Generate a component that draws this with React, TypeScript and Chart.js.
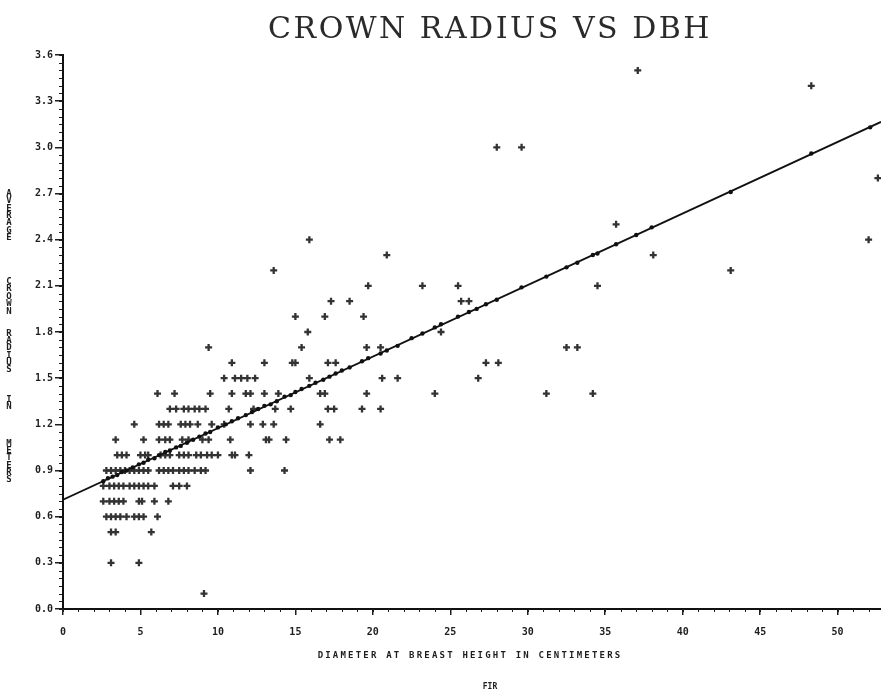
import React, { useEffect, useRef } from "react";
import { Chart, registerables } from "chart.js";

Chart.register(...registerables);

const TITLE = "CROWN RADIUS VS DBH";
const X_TITLE = "DIAMETER AT BREAST HEIGHT IN CENTIMETERS";
const Y_TITLE = "AVERAGE     CROWN  RADIUS   IN    METERS";
const SPECIES = "FIR";

const xTickValues = [0, 5, 10, 15, 20, 25, 30, 35, 40, 45, 50];
const yTickValues = [0, 0.3, 0.6, 0.9, 1.2, 1.5, 1.8, 2.1, 2.4, 2.7, 3.0, 3.3, 3.6];

// observed crown radius rows (m) and the DBH values (cm) plotted on each row
const crownRows = [0.1, 0.3, 0.5, 0.6, 0.7, 0.8, 0.9, 1.0, 1.1, 1.2, 1.3, 1.4, 1.5, 1.6, 1.7, 1.8, 1.9, 2.0, 2.1, 2.2, 2.3, 2.4, 2.5, 2.8, 3.0, 3.4, 3.5];
const dbhByRow = [
  [9.1],
  [3.1, 4.9],
  [3.1, 3.4, 5.7],
  [2.8, 3.1, 3.4, 3.7, 4.1, 4.6, 4.9, 5.2, 6.1],
  [2.6, 3.0, 3.3, 3.6, 3.9, 4.9, 5.1, 5.9, 6.8],
  [2.6, 3.0, 3.3, 3.6, 3.9, 4.3, 4.6, 4.9, 5.2, 5.5, 5.9, 7.1, 7.5, 8.0],
  [2.8, 3.1, 3.4, 3.7, 4.0, 4.3, 4.6, 4.9, 5.2, 5.5, 6.2, 6.5, 6.8, 7.1, 7.5, 7.8, 8.1, 8.5, 8.9, 9.2, 12.1, 14.3],
  [3.5, 3.8, 4.1, 5.0, 5.3, 5.5, 6.3, 6.6, 6.9, 7.5, 7.8, 8.1, 8.6, 8.9, 9.3, 9.6, 10.0, 10.9, 11.1, 12.0],
  [3.4, 5.2, 6.2, 6.6, 6.9, 7.7, 8.1, 9.0, 9.4, 10.8, 13.1, 13.3, 14.4, 17.2, 17.9],
  [4.6, 6.2, 6.5, 6.8, 7.6, 7.9, 8.2, 8.7, 9.6, 10.4, 12.1, 12.9, 13.6, 16.6],
  [6.9, 7.3, 7.8, 8.1, 8.5, 8.8, 9.2, 10.7, 12.3, 13.7, 14.7, 17.1, 17.5, 19.3, 20.5],
  [6.1, 7.2, 9.5, 10.9, 11.8, 12.1, 13.0, 13.9, 16.6, 16.9, 19.6, 24.0, 31.2, 34.2],
  [10.4, 11.1, 11.5, 11.9, 12.4, 15.9, 20.6, 21.6, 26.8],
  [10.9, 13.0, 14.8, 15.0, 17.1, 17.6, 27.3, 28.1],
  [9.4, 15.4, 19.6, 20.5, 32.5, 33.2],
  [15.8, 24.4],
  [15.0, 16.9, 19.4],
  [17.3, 18.5, 25.7, 26.2],
  [19.7, 23.2, 25.5, 34.5],
  [13.6, 43.1],
  [20.9, 38.1],
  [15.9, 52.0],
  [35.7],
  [52.6],
  [28.0, 29.6],
  [48.3],
  [37.1],
];

// fitted regression line (end points)
const fitDbh = [0, 52.8];
const fitCrown = [0.71, 3.165];

// predicted values marked on the fitted line
const predDbh = [2.6, 2.9, 3.2, 3.5, 3.8, 4.1, 4.5, 4.9, 5.2, 5.5, 5.9, 6.2, 6.6, 6.9, 7.3, 7.6, 8.0, 8.4, 8.8, 9.2, 9.5, 10.0, 10.5, 10.9, 11.3, 11.8, 12.2, 12.6, 13.0, 13.4, 13.8, 14.3, 14.7, 15.0, 15.4, 15.9, 16.3, 16.8, 17.2, 17.6, 18.0, 18.5, 19.3, 19.7, 20.5, 20.9, 21.6, 22.5, 23.2, 24.0, 24.4, 25.5, 26.2, 26.7, 27.3, 28.0, 29.6, 31.2, 32.5, 33.2, 34.2, 34.5, 35.7, 37.0, 38.0, 43.1, 48.3, 52.1];
const predCrown = [0.83, 0.85, 0.86, 0.87, 0.89, 0.90, 0.92, 0.94, 0.95, 0.97, 0.98, 1.00, 1.02, 1.03, 1.05, 1.06, 1.08, 1.10, 1.12, 1.14, 1.15, 1.18, 1.20, 1.22, 1.24, 1.26, 1.28, 1.30, 1.32, 1.33, 1.35, 1.38, 1.39, 1.41, 1.43, 1.45, 1.47, 1.49, 1.51, 1.53, 1.55, 1.57, 1.61, 1.63, 1.66, 1.68, 1.71, 1.76, 1.79, 1.83, 1.85, 1.90, 1.93, 1.95, 1.98, 2.01, 2.09, 2.16, 2.22, 2.25, 2.30, 2.31, 2.37, 2.43, 2.48, 2.71, 2.96, 3.13];

const X_MIN = 0;
const X_MAX = 52.8;
const Y_MIN = 0;
const Y_MAX = 3.6;
const MINOR_X_STEP = 1;
const MINOR_Y_STEP = 0.05;

const INK = "#1e1e1e";
const MONO = "'DejaVu Sans Mono', monospace";

const minorTicks = {
  id: "minorTicks",
  afterDraw(chart: any) {
    const { ctx, chartArea } = chart;
    const xs = chart.scales.x;
    const ys = chart.scales.y;
    ctx.save();
    ctx.strokeStyle = INK;
    ctx.lineWidth = 1;
    ctx.beginPath();
    const nx = Math.round((X_MAX - X_MIN) / MINOR_X_STEP);
    for (let i = 0; i <= nx; i++) {
      const px = Math.round(xs.getPixelForValue(X_MIN + i * MINOR_X_STEP)) + 0.5;
      ctx.moveTo(px, chartArea.bottom);
      ctx.lineTo(px, chartArea.bottom + 3);
    }
    const ny = Math.round((Y_MAX - Y_MIN) / MINOR_Y_STEP);
    for (let i = 0; i <= ny; i++) {
      const py = Math.round(ys.getPixelForValue(Y_MIN + i * MINOR_Y_STEP)) + 0.5;
      ctx.moveTo(chartArea.left, py);
      ctx.lineTo(chartArea.left - 4, py);
    }
    ctx.stroke();
    ctx.restore();
  },
};

export default function App() {
  const canvasRef = useRef<HTMLCanvasElement | null>(null);

  useEffect(() => {
    if (!canvasRef.current) return;
    const observed = crownRows.flatMap((y, i) => dbhByRow[i].map((x) => ({ x, y })));
    const fit = fitDbh.map((x, i) => ({ x, y: fitCrown[i] }));
    const pred = predDbh.map((x, i) => ({ x, y: predCrown[i] }));

    const chart = new Chart(canvasRef.current, {
      type: "scatter",
      data: {
        datasets: [
          {
            type: "line",
            data: fit,
            borderColor: "#111",
            borderWidth: 1.8,
            pointRadius: 0,
            fill: false,
            order: 0,
          } as any,
          {
            data: pred,
            pointStyle: "circle",
            pointRadius: 2.2,
            backgroundColor: "#111",
            borderColor: "#111",
            borderWidth: 0,
            order: 1,
          },
          {
            data: observed,
            pointStyle: "cross",
            pointRadius: 3.5,
            borderColor: "#333",
            borderWidth: 2.3,
            order: 2,
          },
        ],
      },
      options: {
        animation: false,
        responsive: true,
        maintainAspectRatio: false,
        layout: { autoPadding: false, padding: { top: 55, left: 0, right: 0, bottom: 0 } },
        plugins: {
          legend: { display: false },
          tooltip: { enabled: false },
          title: { display: false },
        },
        scales: {
          x: {
            type: "linear",
            min: X_MIN,
            max: X_MAX,
            afterBuildTicks: (s: any) => {
              s.ticks = xTickValues.map((value) => ({ value }));
            },
            afterFit: (s: any) => {
              s.height = 86;
              s.paddingLeft = 0;
              s.paddingRight = 0;
            },
            border: { display: true, color: "#111", width: 2 },
            grid: {
              drawOnChartArea: false,
              drawTicks: true,
              tickLength: 6,
              color: INK,
              lineWidth: 1.5,
            },
            ticks: {
              autoSkip: false,
              maxRotation: 0,
              padding: 11,
              color: INK,
              font: { family: MONO, size: 10, weight: "bold" },
              callback: (v: any) => String(v),
            },
          },
          y: {
            type: "linear",
            min: Y_MIN,
            max: Y_MAX,
            afterBuildTicks: (s: any) => {
              s.ticks = yTickValues.map((value) => ({ value }));
            },
            afterFit: (s: any) => {
              s.width = 63;
            },
            border: { display: true, color: "#111", width: 2 },
            grid: {
              drawOnChartArea: false,
              drawTicks: true,
              tickLength: 8,
              color: INK,
              lineWidth: 1.5,
            },
            ticks: {
              padding: 2,
              color: INK,
              font: { family: MONO, size: 10, weight: "bold" },
              callback: (v: any) => Number(v).toFixed(1),
            },
          },
        },
      },
      plugins: [minorTicks],
    });
    return () => chart.destroy();
  }, []);

  const yLetters = Y_TITLE.split("");

  return (
    <div
      style={{
        position: "absolute",
        left: 0,
        top: 0,
        width: 881,
        height: 695,
        overflow: "hidden",
        background: "#fff",
      }}
    >
      <canvas ref={canvasRef} />
      <div
        style={{
          position: "absolute",
          left: 190,
          top: 10,
          width: 600,
          textAlign: "center",
          fontFamily: "'DejaVu Serif', serif",
          fontSize: 30,
          letterSpacing: 2.5,
          color: "#2a2a2a",
          lineHeight: "36px",
          whiteSpace: "pre",
        }}
      >
        {TITLE}
      </div>
      <div
        style={{
          position: "absolute",
          left: 3,
          top: 190,
          width: 12,
          fontFamily: MONO,
          fontSize: 9,
          fontWeight: "bold",
          color: INK,
        }}
      >
        {yLetters.map((c, i) => (
          <div key={i} style={{ height: 7.35, lineHeight: "7.35px", textAlign: "center" }}>
            {c === " " ? "\u00a0" : c}
          </div>
        ))}
      </div>
      <div
        style={{
          position: "absolute",
          left: 270,
          top: 650,
          width: 400,
          textAlign: "center",
          fontFamily: MONO,
          fontSize: 9,
          fontWeight: "bold",
          letterSpacing: 2.2,
          color: INK,
          whiteSpace: "pre",
        }}
      >
        {X_TITLE}
      </div>
      <div
        style={{
          position: "absolute",
          left: 440,
          top: 682,
          width: 100,
          textAlign: "center",
          fontFamily: MONO,
          fontSize: 8,
          fontWeight: "bold",
          color: INK,
        }}
      >
        {SPECIES}
      </div>
    </div>
  );
}
